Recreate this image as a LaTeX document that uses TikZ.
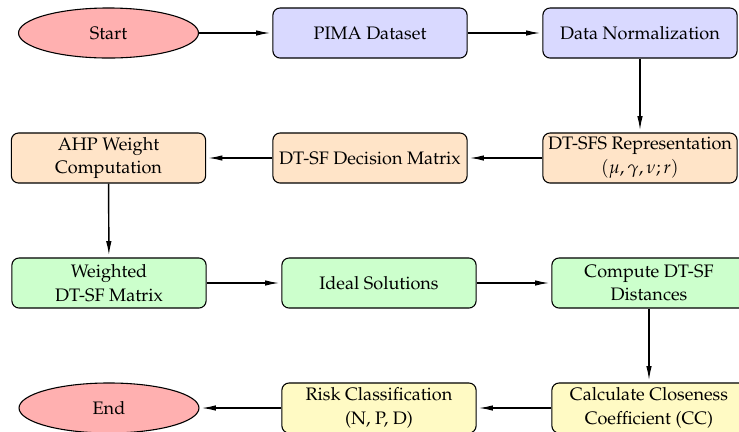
\documentclass[tikz,border=0pt]{standalone}
\usepackage[T1]{fontenc}
\usepackage{mathpazo}
\usetikzlibrary{arrows.meta,shapes.geometric}
\definecolor{termred}{RGB}{255,176,176}
\definecolor{dataBlue}{RGB}{217,217,255}
\definecolor{fuzzyOrange}{RGB}{255,228,200}
\definecolor{topsisGreen}{RGB}{204,255,204}
\definecolor{resultYellow}{RGB}{255,250,196}
\begin{document}
\begin{tikzpicture}[x=0.5535pt,y=-0.5535pt,
    box/.style={draw,semithick,rounded corners=4pt,align=center,
        font=\fontsize{10}{13.2}\selectfont,
        minimum width=107.5pt,minimum height=27.7pt,inner sep=2pt},
    term/.style={draw,semithick,ellipse,fill=termred,
        minimum width=99.6pt,minimum height=27.7pt},
    flow/.style={-{Latex[length=8pt,width=3pt]},thick,shorten >=1pt}]
\useasboundingbox (0,0) rectangle (739,431);

\node[term] (start) at (108.5,33) {Start};
\node[box,fill=dataBlue] (pima) at (370,33) {PIMA Dataset};
\node[box,fill=dataBlue] (norm) at (640,33) {Data Normalization};

\node[box,fill=fuzzyOrange] (sfs) at (640,158) {DT-SFS Representation\\$(\mu,\gamma,\nu;r)$};
\node[box,fill=fuzzyOrange] (decmat) at (370,158) {DT-SF Decision Matrix};
\node[box,fill=fuzzyOrange] (ahp) at (108.5,158) {AHP Weight\\Computation};

\node[box,fill=topsisGreen] (wmat) at (109,283) {Weighted\\DT-SF Matrix};
\node[box,fill=topsisGreen] (ideal) at (379,283) {Ideal Solutions};
\node[box,fill=topsisGreen] (dist) at (649,283) {Compute DT-SF\\Distances};

\node[box,fill=resultYellow] (cc) at (649,408) {Calculate Closeness\\Coefficient (CC)};
\node[box,fill=resultYellow] (risk) at (379,408) {Risk Classification\\(N, P, D)};
\node[term] (end) at (109,408) {End};

\foreach \a/\b in {start/pima,pima/norm,norm/sfs,sfs/decmat,decmat/ahp,ahp/wmat,
    wmat/ideal,ideal/dist,dist/cc,cc/risk,risk/end}
{
    \draw[flow] (\a)--(\b);
}
\end{tikzpicture}
\end{document}
